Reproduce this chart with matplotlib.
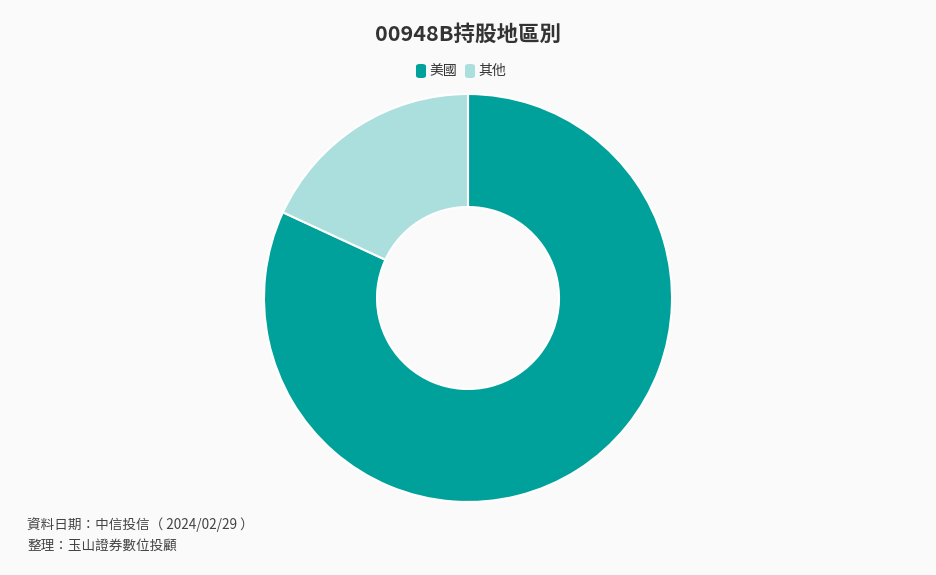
import matplotlib
matplotlib.use("Agg")
import matplotlib.pyplot as plt
from matplotlib.patches import FancyBboxPatch

plt.rcParams['font.family'] = ['Noto Sans CJK TC', 'DejaVu Sans']

labels = ["美國", "其他"]
values = [81.9, 18.1]
colors = ["#00A19A", "#ABDFDD"]

BG = "#FAFAFA"
W, H = 936, 575
fig = plt.figure(figsize=(W / 100, H / 100), dpi=100)
fig.patch.set_facecolor(BG)

cx, cy, r_out, r_in = 468, 298, 204, 91
half = 220
ax = fig.add_axes([(cx - half) / W, (H - cy - half) / H, 2 * half / W, 2 * half / H])
ax.set_facecolor(BG)
ax.pie(values, colors=colors, startangle=90, counterclock=False, radius=1,
       wedgeprops=dict(width=1 - r_in / r_out, edgecolor="white", linewidth=1.5))
lim = half / r_out
ax.set_xlim(-lim, lim); ax.set_ylim(-lim, lim)
ax.set_aspect("equal")
ax.axis("off")

fig.text(cx / W, 1 - 34 / H, "00948B持股地區別", ha="center", va="center",
         fontsize=15.5, weight="bold", color="#333333")

# legend
lx = [416, 465]
for x0, lab, col in zip(lx, labels, colors):
    fig.patches.append(FancyBboxPatch(((x0) / W, 1 - 78 / H), 10 / W, 14 / H,
                       boxstyle="round,pad=0,rounding_size=0.004",
                       transform=fig.transFigure, facecolor=col, edgecolor="none"))
    fig.text((x0 + 13) / W, 1 - 71 / H, lab, ha="left", va="center",
             fontsize=10, color="#333333")

fig.text(27 / W, 1 - 525 / H, "資料日期：中信投信（ 2024/02/29 ）", ha="left", va="center",
         fontsize=9.8, color="#444444")
fig.text(27 / W, 1 - 546 / H, "整理：玉山證券數位投顧", ha="left", va="center",
         fontsize=9.8, color="#444444")

fig.savefig("out.png", dpi=100, facecolor=BG)
